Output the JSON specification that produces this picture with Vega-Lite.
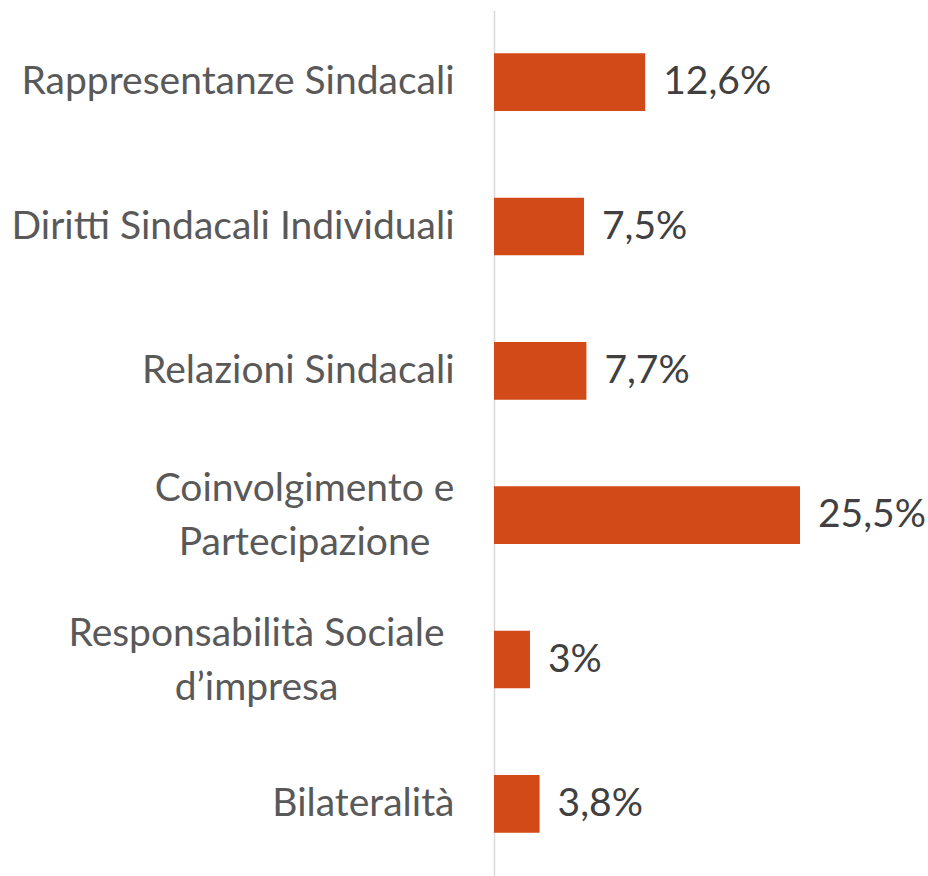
{
  "$schema": "https://vega.github.io/schema/vega-lite/v6.json",
  "autosize": "none",
  "width": 432,
  "height": 866,
  "padding": {"left": 494, "top": 10, "right": 2, "bottom": 0},
  "background": "white",
  "data": {"values": [
    {"cat": "Rappresentanze Sindacali", "v": 12.6, "lbl": "12,6%"},
    {"cat": "Diritti Sindacali Individuali", "v": 7.5, "lbl": "7,5%"},
    {"cat": "Relazioni Sindacali", "v": 7.7, "lbl": "7,7%"},
    {"cat": "Coinvolgimento e|Partecipazione", "v": 25.5, "lbl": "25,5%"},
    {"cat": "Responsabilità Sociale|d’impresa", "v": 3.0, "lbl": "3%"},
    {"cat": "Bilateralità", "v": 3.8, "lbl": "3,8%"}
  ]},
  "encoding": {
    "y": {"field": "cat", "type": "nominal", "sort": null,
      "scale": {"paddingInner": 0.6, "paddingOuter": 0.3},
      "axis": {"title": null, "ticks": false, "domainColor": "#D9D9D9", "domainWidth": 1.5,
        "labelExpr": "split(datum.label, '|')", "labelFont": "Lato", "labelFontSize": 39,
        "labelColor": "#595959", "labelLineHeight": 54, "labelLimit": 0,
        "labelAlign": {"condition": {"test": "indexof(datum.label, '|') >= 0", "value": "center"}, "value": "right"},
        "labelOffset": {"condition": {"test": "indexof(datum.label, '|') >= 0", "value": -26}, "value": 0},
        "labelPadding": {"condition": [
          {"test": "indexof(datum.label, 'Coinv') >= 0", "value": 190},
          {"test": "indexof(datum.label, 'Respons') >= 0", "value": 238}
        ], "value": 40}}},
    "x": {"field": "v", "type": "quantitative", "scale": {"domain": [0, 36]}, "axis": null}
  },
  "layer": [
    {"mark": {"type": "bar", "color": "#D24A18"}},
    {"mark": {"type": "text", "align": "left", "baseline": "middle", "dx": 18, "font": "Lato", "fontSize": 39, "color": "#404040"},
     "encoding": {"text": {"field": "lbl"}}}
  ],
  "config": {"view": {"stroke": null}}
}
